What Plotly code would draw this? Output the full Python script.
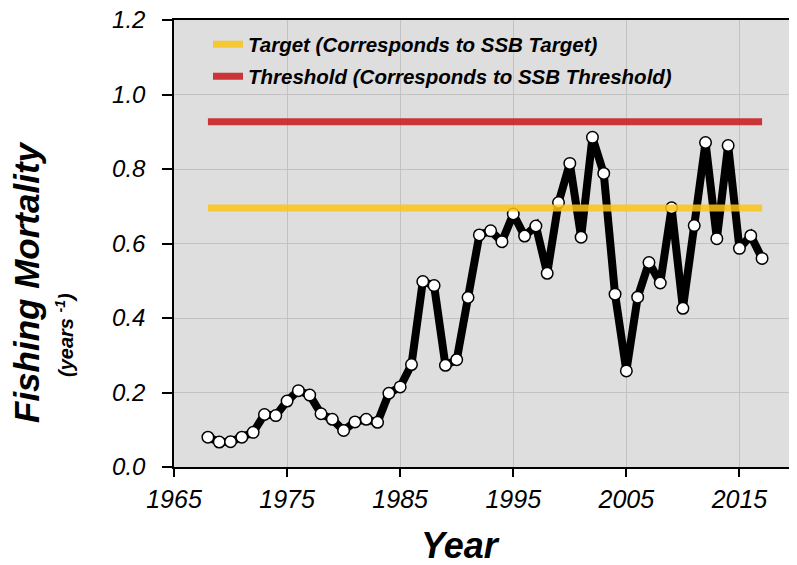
import plotly.graph_objects as go

years = list(range(1968, 2018))
fishing_mortality = [
    0.080, 0.067, 0.068, 0.080, 0.093, 0.141, 0.138, 0.177, 0.205, 0.193,
    0.143, 0.128, 0.098, 0.121, 0.128, 0.120, 0.198, 0.215, 0.275, 0.498,
    0.487, 0.273, 0.288, 0.455, 0.623, 0.634, 0.605, 0.679, 0.620, 0.647,
    0.520, 0.710, 0.815, 0.617, 0.885, 0.788, 0.464, 0.258, 0.456, 0.549,
    0.494, 0.696, 0.426, 0.648, 0.871, 0.613, 0.863, 0.587, 0.621, 0.560,
]
ref_years = [1968, 2017]
target_value = 0.695
threshold_value = 0.927

target_label = "Target (Corresponds to SSB Target)"
threshold_label = "Threshold (Corresponds to SSB Threshold)"

FONT = "Arial, Liberation Sans, sans-serif"

# page has an 8px body margin; plot area spans page x 174..796, y 20..467
PL, PT, PW, PH = 174, 20, 622, 447


def px(x):
    return (x - PL) / PW


def py(y):
    return (PT + PH - y) / PH


fig = go.Figure()

fig.add_trace(go.Scatter(
    x=years, y=fishing_mortality, mode="lines+markers",
    line=dict(color="black", width=8),
    marker=dict(size=11.5, color="white", line=dict(color="black", width=1.5)),
    showlegend=False, hoverinfo="x+y",
))

fig.add_trace(go.Scatter(
    x=ref_years, y=[target_value] * 2, mode="lines",
    line=dict(color="rgba(250,196,22,0.85)", width=7),
    name=target_label, legend="legend",
))
fig.add_trace(go.Scatter(
    x=ref_years, y=[threshold_value] * 2, mode="lines",
    line=dict(color="rgba(200,30,32,0.88)", width=7),
    name=threshold_label, legend="legend2",
))

legend_common = dict(
    bgcolor="rgba(0,0,0,0)", borderwidth=0,
    font=dict(family=FONT, size=20.5, color="black", style="italic", weight="bold"),
    xanchor="left", yanchor="middle", itemwidth=30,
)

fig.update_layout(
    width=789, height=557,
    margin=dict(l=166, r=1, t=12, b=98, autoexpand=False),
    paper_bgcolor="white",
    plot_bgcolor="#DEDEDE",
    legend=dict(x=px(208), y=py(44.5), **legend_common),
    legend2=dict(x=px(208), y=py(76.5), **legend_common),
    xaxis=dict(
        range=[1965, 2020], tick0=1965, dtick=10, automargin=False,
        showline=True, mirror=True, linecolor="black", linewidth=1.5,
        ticks="outside", ticklen=8, tickwidth=1.5, tickcolor="black",
        showgrid=True, gridcolor="#C2C2C2", gridwidth=1,
        zeroline=False,
        tickfont=dict(family=FONT, size=25, color="black", style="italic"),
        ticklabelstandoff=1, ticklabeloverflow="allow",
    ),
    yaxis=dict(
        range=[0, 1.2], tick0=0, dtick=0.2, tickformat=".1f", automargin=False,
        showline=True, mirror=True, linecolor="black", linewidth=1.5,
        ticks="outside", ticklen=10, tickwidth=1.5, tickcolor="black",
        showgrid=True, gridcolor="#C2C2C2", gridwidth=1,
        zeroline=False,
        tickfont=dict(family=FONT, size=24, color="black", style="italic"),
        ticklabelstandoff=12, ticklabeloverflow="allow",
    ),
    annotations=[
        dict(text="Year", xref="paper", yref="paper",
             x=px(460), y=py(545),
             xanchor="center", yanchor="middle", showarrow=False,
             font=dict(family=FONT, size=36, color="black", style="italic", weight="bold")),
        dict(text="Fishing Mortality", xref="paper", yref="paper",
             x=px(26), y=py(282), textangle=-90,
             xanchor="center", yanchor="middle", showarrow=False,
             font=dict(family=FONT, size=35, color="black", style="italic", weight="bold")),
        dict(text="(years <sup>-1</sup>)", xref="paper", yref="paper",
             x=px(64), y=py(335), textangle=-90,
             xanchor="center", yanchor="middle", showarrow=False,
             font=dict(family=FONT, size=20, color="black", style="italic", weight="bold")),
    ],
)

fig.write_html("out.html")
